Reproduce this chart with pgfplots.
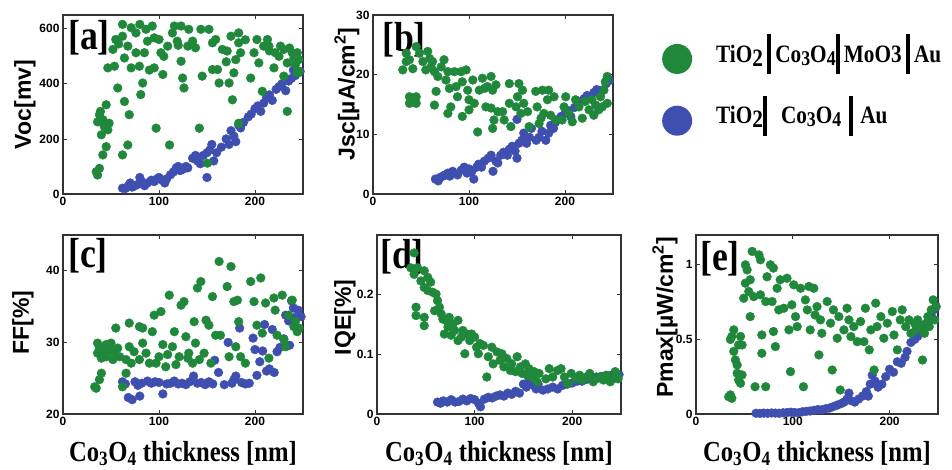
\documentclass[border=0pt]{standalone}
\usepackage{fontspec}
\usepackage{pgfplots}
\pgfplotsset{compat=1.18}
\newfontfamily\lsans{Liberation Sans}
\newfontfamily\tnr[FakeStretch=0.85]{Liberation Serif}
\definecolor{cgreen}{HTML}{20883A}
\definecolor{cblue}{HTML}{3E4FB0}
\newcommand{\vbar}{\rule[-12pt]{4pt}{40pt}}
\tikzset{tag/.style={font=\tnr\bfseries\fontsize{42}{42}\selectfont, anchor=north west, inner sep=0pt}}
\pgfplotsset{
  panel/.style={
    scale only axis, width=240pt, height=179pt, anchor=south west,
    xmin=0, xmax=250, xtick={0,100,200},
    axis line style={line width=1.1pt, black!80},
    tick style={line width=0.8pt, black!80},
    major tick length=4pt, tick align=inside,
    tick label style={font=\lsans\bfseries\fontsize{12}{13}\selectfont},
    /pgf/number format/assume math mode=true,
    ylabel style={font=\lsans\bfseries\fontsize{23}{24}\selectfont, anchor=center},
    xlabel style={font=\tnr\bfseries\fontsize{29}{29}\selectfont,
                  at={(axis description cs:0.5,0)}, anchor=base, yshift=-47pt},
  },
  gr/.style={only marks, mark=*, mark size=4.4pt, color=cgreen, forget plot},
  bl/.style={only marks, mark=*, mark size=4.4pt, color=cblue, forget plot},
}
\begin{document}
\begin{tikzpicture}
\useasboundingbox (0pt,0pt) rectangle (952pt,469pt);

% [a] Voc
\begin{axis}[panel, at={(63pt,275pt)}, ymin=0, ymax=650, ytick={0,200,400,600},
  ylabel={Voc[mv]}, ylabel style={at={(axis description cs:0,0.5)}, yshift=38pt}]
\addplot[bl] coordinates {(62,21)(65,20)(68,30)(70,40)(72,25)(75,30)(78,35)(80,60)(82,45)(85,30)(88,40)(92,50)(95,45)(98,55)(100,60)(103,50)(106,40)(108,55)
(112,70)(115,80)(118,95)(120,100)(122,85)(125,90)(128,100)(130,95)(135,130)(138,140)(140,120)(143,110)(146,140)(150,60)(150,150)(153,160)(155,180)(157,120)(160,150)
(165,170)(170,200)(173,180)(175,230)(178,210)(180,190)(183,250)(185,240)(188,260)(193,280)(196,290)(200,310)(203,320)(206,300)(209,330)(212,350)(215,360)(218,340)
(222,380)(225,390)(228,400)(232,375)(235,410)(238,420)(240,450)(242,430)(245,440)(247,445)};
\addplot[gr] coordinates {(34.6,81)(36,69)(38,93)(38,288)(45,324)(41.5,270)(48,257)(46.7,233)(40,215)(45,172)(41.5,142)(36,262)(39,300)(43,245)
(46.7,458)(53.6,464)(52,525)(55,561)(62,573)(62,616)(71,604)(67.5,537)(64,494)(71,458)(57,385)(64,336)(69,288)(67.5,178)(62,142)(58,545)
(79.6,464)(76,513)(76,585)(80,616)(86.5,598)(84.8,513)(83,403)(81,361)(88,555)(90,450)(93,610)(95,567)(95,458)(97,239)(100,561)(102,513)(104,434)(105,500)
(109,537)(111,178)(114,585)(116,610)(119,555)(120,540)(123,610)(123,482)(124.6,421)(126,385)(130,537)(131,598)(135,555)(138,531)(142,239)(143.6,598)(145,428)
(150.5,112)(152,598)(155.7,549)(155.7,452)(159,561)(161,452)(162.6,403)(166,525)(170,480)(171,519)(173,403)(175,573)(176.5,342)(178,440)(180,488)(183,549)(183,585)
(185,513)(183,257)(190,560)(195.5,421)(199,513)(202,561)(204,476)(207.6,373)(209,537)(213,561)(214.5,537)(215,520)(219.7,458)(221,513)(225,500)(226.6,537)
(230,525)(230,428)(233.6,300)(233.6,476)(236,530)(238.8,513)(240.5,494)(242,470)(244,513)(244,440)(245.7,488)(245.7,446)};
\node[tag] at (rel axis cs:0,1) [xshift=5pt, yshift=-5pt] {[a]};
\end{axis}

% [b] Jsc
\begin{axis}[panel, at={(373pt,275pt)}, ymin=0, ymax=30, ytick={0,10,20,30},
  ylabel={Jsc[µA/cm\textsuperscript{2}]}, ylabel style={at={(axis description cs:0,0.56)}, yshift=26pt},
  legend style={at={(axis description cs:1.204,0.905)}, anchor=north west, draw=none, fill=none,
    row sep=20pt, inner sep=0pt, font=\tnr\bfseries\fontsize{25}{25}\selectfont},
  legend cell align=left]
\addplot[bl] coordinates {(65,2.5)(68,2.2)(70,2.8)(73,3)(75,3.2)(78,3.5)(80,3)(83,3.8)(88,3.2)(92,4)(95,4.5)(98,3.5)(100,4.2)(103,3.8)(105,2.5)(108,4.5)
(110,5)(113,4.5)(116,5.5)(120,6)(123,6.5)(125,3.8)(128,5.5)(130,5.2)(133,6.5)(136,7)(140,6.5)(142,7.5)(145,8)(148,7.2)(150,6)(152,8.5)(155,9)(157,10.2)(160,8.5)
(163,9.5)(165,11)(170,9)(173,9.5)(176,10.5)(180,9)(183,10.2)(185,11.5)(188,11)(190,12)(193,12.5)(196,13)(200,13.5)(203,14)(206,13)(210,14.5)(213,15)(216,15.5)
(220,16)(223,16.5)(226,16.2)(230,17)(233,17.5)(236,17)(240,17.5)(243,18.5)(246,19)(150,12.5)};
\addplot[gr] coordinates {(31,20.8)(34.6,23.6)(38,22.5)(34.6,22.2)(41.5,21)(45,24.7)(38,16.3)(45,16.3)(38,15.2)(45,15.2)(48.4,23.6)(52,22.2)(55,20.8)(57,23.9)
(59,22.7)(60.5,21.3)(62,22.2)(64,20.5)(65.7,17.2)(64,14.9)(67.5,19.7)(71,21.3)(74,22.5)(76,19.1)(78,20.5)(79.6,17.7)(81,14.6)(78,13.5)(84.8,20.5)(86.5,18)
(88,16.3)(91.7,20.5)(93,18.8)(93,13)(97,20.8)(98.6,17.4)(100,15.8)(100,14.1)(104,19.1)(105.5,15.2)(109,10.4)(110.7,17.4)(114,19.4)(116,17.7)(117.6,14.6)(119,18)
(123,19.7)(123,14.4)(124.6,17.4)(124.6,11)(126,12.4)(128,18.3)(130,13.8)(135,13.8)(136.6,12.4)(142,18.5)(142,15.2)(143.6,11.3)(149,14.6)(150.5,16.3)(152,18.5)
(154,13.5)(155.7,17.4)(157,15.2)(161,13.8)(162.6,11.3)(169.5,17.2)(171,14.6)(173,11.8)(175,12.7)(176.5,17.4)(178,13.5)(181.7,15.8)(183,17.4)(185,13.2)(188.6,16.3)
(190,12.4)(197,12.4)(199,14.6)(200.7,16.3)(204,13.5)(207.6,12.1)(211,15.8)(214.5,14.6)(218,12.7)(221,15.5)(225,14.1)(228,15.8)(230,13.2)(232,14.9)(235,14.1)
(237,16.3)(238.8,14.6)(240.5,17.4)(242,18.8)(244,19.7)(244,15.2)};
\addlegendimage{only marks, legend image code/.code={\fill[cgreen, draw=none] (15pt,-10pt) circle (15pt); \path[draw=none] (0pt,-10pt) -- (52pt,-10pt);}}
\addlegendentry{TiO\raisebox{-4pt}{2}\,\vbar\,Co\raisebox{-3pt}{\fontsize{21}{21}\selectfont 3}O\raisebox{-3pt}{\fontsize{21}{21}\selectfont 4}\vbar\,MoO3\,\vbar\,Au}
\addlegendimage{only marks, legend image code/.code={\fill[cblue, draw=none] (15pt,-10pt) circle (15pt); \path[draw=none] (0pt,-10pt) -- (52pt,-10pt);}}
\addlegendentry{TiO\raisebox{-4pt}{2}\vbar\hspace{14pt}Co\raisebox{-3pt}{\fontsize{21}{21}\selectfont 3}O\raisebox{-3pt}{\fontsize{21}{21}\selectfont 4}\hspace{8pt}\vbar\hspace{7pt}Au}
\node[tag] at (rel axis cs:0,1) [xshift=9pt, yshift=-7pt] {[b]};
\end{axis}

% [c] FF
\begin{axis}[panel, at={(63pt,55pt)}, ymin=20, ymax=45, ytick={20,30,40},
  ylabel={FF[\%]}, ylabel style={at={(axis description cs:0,0.51)}, yshift=40pt},
  xlabel={Co\textsubscript{3}O\textsubscript{4} thickness [nm]}]
\addplot[bl] coordinates {(62,24.5)(65,24.2)(68,22.3)(72,22)(75,24.5)(78,24)(80,22.5)(82,24.3)(88,24.6)(92,24.3)(96,24.5)(100,24.4)(104,22.8)(108,24.2)
(112,24.3)(116,24.6)(120,24.2)(124,24.3)(128,24.1)(132,24.5)(136,25.3)(140,24.3)(144,24.4)(148,24.1)(152,24.5)(156,24.2)(158,27.5)(162,25.8)(168,24.1)
(172,30)(176,24.3)(178,24.8)(180,25.3)(184,32)(186,24.4)(190,24.2)(194,24.3)(198,30.6)(200,29)(202,25.4)(205,27.3)(208,28.8)(210,32.5)(212,26)(215,26.3)
(218,31.8)(220,25.8)(223,28.7)(226,29.3)(230,30.5)(232,33.8)(235,33)(238,35.8)(240,34.8)(242,33.5)(245,34.5)(248,33.6)(236,29.6)};
\addplot[gr] coordinates {(33,23.8)(34.6,23.6)(38,24.8)(40,25.7)(36,29.9)(38,29.2)(36,28.5)(41.5,28.7)(40,27.8)(45,29.7)(45,28)(46.7,28.7)(50,29.9)(48.4,29.2)
(52,27.6)(53.6,28.5)(55,32)(57,29.2)(59,28)(62,23.8)(65.7,25.7)(65.7,27.6)(69,32.7)(69,29.4)(71,27.1)(74,28.7)(79.6,27.6)(79.6,32.2)(83,32)(83,29.9)(86.5,28.5)
(90,27.1)(93,31.5)(95,33.8)(97,27.1)(100,28)(102,34.3)(104,29.7)(107,26.6)(109,28.3)(110.7,36.6)(114,29.4)(116,31.5)(117.6,26.9)(121,28)(123,35.2)(126,35.7)
(128,30.8)(130,27.8)(131,28.5)(135,27.1)(136.6,32.9)(138,29.9)(140,37.6)(142,27.6)(143.6,38.5)(147,28.5)(149,33.1)(152,32.4)(154,27.1)(155.7,36.4)(159,31)
(162.6,41.3)(164,31)(171,37.8)(173,28)(175,40.6)(178,35.7)(180,29.4)(181.7,35.9)(183,32.9)(185,28)(190,27.1)(195.5,38.5)(199,35.7)(202,32.4)(206,39)(207.6,31.3)
(211,35.5)(214.5,27.8)(219.7,36.2)(221,34.5)(223,31)(228.4,36.6)(230,30.4)(232,29.4)(235,33.8)(238.8,35.9)(240.5,32.2)(242,32.9)(244,31.5)(245.7,32)};
\node[tag] at (rel axis cs:0,1) [xshift=5pt, yshift=-3pt] {[c]};
\end{axis}

% [d] IQE
\begin{axis}[panel, at={(377pt,55pt)}, width=244pt, ymin=0, ymax=0.3, ytick={0,0.1,0.2},
  ylabel={IQE[\%]}, ylabel style={at={(axis description cs:0,0.54)}, yshift=32pt},
  xlabel={Co\textsubscript{3}O\textsubscript{4} thickness [nm]}]
\addplot[bl] coordinates {(62,0.02)(65,0.018)(68,0.022)(72,0.02)(76,0.024)(80,0.02)(84,0.021)(88,0.025)(92,0.022)(96,0.026)(100,0.024)(104,0.018)(106,0.012)
(110,0.025)(114,0.028)(118,0.027)(122,0.03)(126,0.032)(130,0.03)(134,0.035)(138,0.033)(142,0.038)(146,0.035)(150,0.05)(153,0.045)(156,0.058)(160,0.048)
(163,0.042)(165,0.05)(170,0.04)(175,0.042)(180,0.045)(185,0.042)(190,0.048)(195,0.05)(200,0.052)(205,0.055)(210,0.055)(215,0.058)(220,0.06)(225,0.062)
(230,0.063)(235,0.064)(240,0.065)(245,0.063)(248,0.066)};
\addplot[gr] coordinates {(38,0.27)(34.6,0.245)(38,0.234)(41.5,0.245)(45,0.223)(48.4,0.24)(48.4,0.212)(52,0.229)(52,0.207)(55,0.221)(40,0.179)(40,0.165)
(48.4,0.162)(48.4,0.148)(57,0.204)(60.5,0.201)(62,0.19)(64,0.179)(65.7,0.168)(67.5,0.159)(59,0.173)(71,0.157)(72.7,0.146)(69,0.134)(74,0.162)(76,0.132)
(78,0.151)(79.6,0.14)(83,0.157)(83,0.123)(86.5,0.129)(88,0.14)(90,0.101)(91.7,0.134)(95,0.123)(97,0.134)(100,0.129)(102,0.112)(103.8,0.101)(105.5,0.118)
(109,0.115)(112.5,0.062)(114,0.096)(117.6,0.112)(119,0.084)(123,0.104)(126,0.09)(128,0.101)(130,0.079)(133,0.093)(136.6,0.073)(138,0.084)(142,0.071)
(143.6,0.096)(147,0.079)(148.7,0.068)(152,0.084)(154,0.065)(155.7,0.076)(159,0.062)(161,0.071)(164,0.054)(166,0.068)(173,0.059)(176.5,0.076)(180,0.062)
(185,0.073)(188.6,0.076)(192,0.062)(195.5,0.051)(199,0.068)(204,0.059)(207.6,0.065)(211,0.057)(214.5,0.062)(218,0.068)(221.5,0.054)(225,0.059)(228,0.062)
(232,0.057)(235,0.065)(239,0.054)(242,0.059)(244,0.071)(245.7,0.065)(247,0.059)};
\node[tag] at (rel axis cs:0,1) [xshift=3pt, yshift=-4pt] {[d]};
\end{axis}

% [e] Pmax
\begin{axis}[panel, at={(696pt,55pt)}, width=242pt, ymin=0, ymax=1.2, ytick={0,0.5,1},
  ylabel={Pmax[µW/cm\textsuperscript{2}]}, ylabel style={at={(axis description cs:0,0.54)}, yshift=31pt},
  xlabel={Co\textsubscript{3}O\textsubscript{4} thickness [nm]}]
\addplot[bl] coordinates {(62,0.005)(66,0.004)(70,0.006)(74,0.005)(78,0.007)(82,0.006)(86,0.005)(90,0.008)(94,0.01)(98,0.012)(102,0.01)(106,0.008)(110,0.015)
(114,0.018)(118,0.02)(122,0.025)(126,0.03)(130,0.028)(134,0.035)(138,0.04)(142,0.05)(146,0.06)(150,0.07)(153,0.08)(156,0.1)(158,0.14)(160,0.09)(164,0.08)
(168,0.1)(172,0.12)(176,0.15)(178,0.12)(180,0.2)(182,0.26)(185,0.22)(188,0.18)(192,0.2)(196,0.25)(200,0.3)(204,0.28)(208,0.35)(212,0.34)(216,0.38)(218,0.42)
(222,0.48)(226,0.5)(229,0.52)(232,0.56)(236,0.6)(240,0.62)(243,0.66)(246,0.7)(248,0.72)};
\addplot[gr] coordinates {(33.8,0.116)(37,0.105)(35.5,0.128)(37,0.52)(39,0.564)(35.5,0.5)(39,0.42)(40.7,0.362)(42.5,0.329)(42.5,0.273)(44,0.228)(46,0.206)
(47.6,0.262)(46,0.52)(44,0.463)(47.6,0.463)(49.3,0.776)(51,0.877)(51,1.0)(52.8,0.966)(54.5,0.821)(56,0.653)(56,0.9)(58,1.09)(59.7,0.787)(61,0.183)(65,1.067)
(66.6,1.034)(66.6,0.799)(68,0.53)(68,0.407)(72,0.183)(72,0.754)(73.4,0.92)(76.9,1.0)(78.6,0.754)(80,0.978)(80,0.553)(82,0.452)(83.8,0.843)(85.5,0.698)(87,0.9)
(90.7,0.709)(94,0.91)(96,0.564)(97.6,0.284)(99,0.732)(101,0.866)(102.8,0.653)(104.5,0.586)(108,0.843)(111,0.183)(113,0.765)(115,0.698)(116.6,0.855)(118,0.564)
(121.7,0.843)(123,0.664)(125,0.72)(127,0.396)(128.6,0.631)(130,0.541)(135.5,0.754)(139,0.609)(140.7,0.295)(142,0.698)(145.9,0.508)(147.6,0.653)(149,0.161)
(152.8,0.564)(156,0.709)(158,0.631)(160,0.519)(163,0.586)(166.6,0.485)(170,0.62)(173.5,0.485)(175,0.709)(179,0.43)(180.6,0.564)(184,0.295)(185.6,0.743)
(187,0.586)(191,0.653)(194,0.508)(197.6,0.609)(202.8,0.687)(204.5,0.53)(208,0.43)(211,0.631)(213,0.698)(216.6,0.586)(220,0.631)(222,0.541)(225.6,0.609)
(227,0.564)(229,0.631)(232,0.586)(234,0.362)(236,0.541)(238,0.609)(239.5,0.653)(241,0.586)(243,0.698)(245,0.765)(246.6,0.631)(248,0.72)};
\node[tag] at (rel axis cs:0,1) [xshift=4pt, yshift=-6pt] {[e]};
\end{axis}
\end{tikzpicture}
\end{document}
